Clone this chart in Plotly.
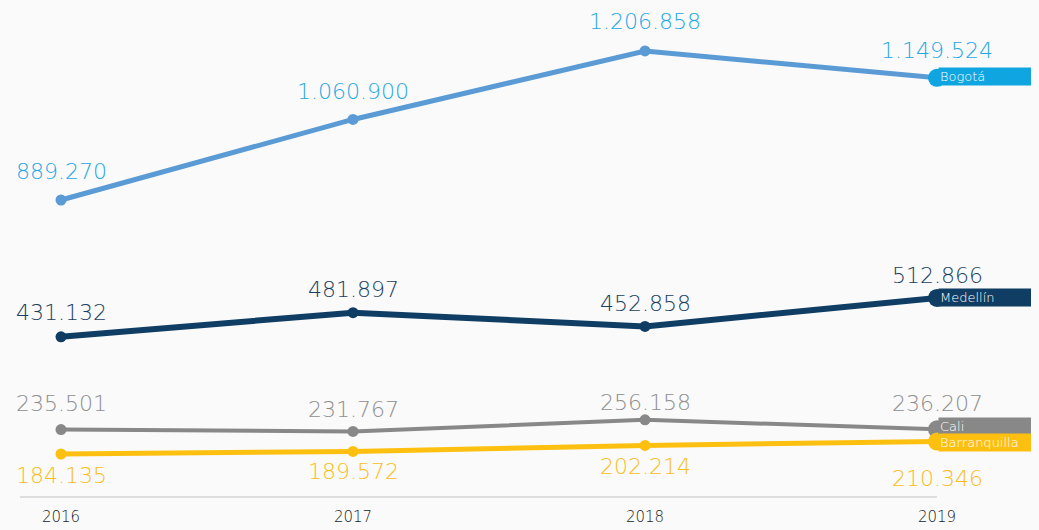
import plotly.graph_objects as go

years = ["2016", "2017", "2018", "2019"]
bogota = [889270, 1060900, 1206858, 1149524]
medellin = [431132, 481897, 452858, 512866]
cali = [235501, 231767, 256158, 236207]
barranquilla = [184135, 189572, 202214, 210346]

series = [
    # name, values, line color, label color, pill color, width, yaxis, label shifts
    ("Bogotá", bogota, "#5b9bd5", "#1fa8e4", "#0ea5e0", 5, "y2", [29, 28, 29, 27]),
    ("Medellín", medellin, "#0f3d63", "#1b3f5f", "#0f3d63", 6, "y", [24, 23, 23, 22]),
    ("Cali", cali, "#888888", "#8f8f8f", "#888888", 4, "y", [26, 22, 17, 26]),
    ("Barranquilla", barranquilla, "#fdc010", "#fbbd1c", "#fdc010", 5, "y", [-21, -20, -21, -37]),
]
pill_shift = {"Bogotá": 1, "Medellín": 0, "Cali": 3, "Barranquilla": -1}

LABEL_FONT = "DejaVu Sans"

def fmt(v):
    return f"{v:,}".replace(",", ".")

xs = list(range(len(years)))
fig = go.Figure()
annotations = []
for name, vals, lc, tc, pc, w, yax, shifts in series:
    fig.add_trace(go.Scatter(
        x=xs, y=vals, mode="lines", yaxis=yax,
        line=dict(color=lc, width=w), cliponaxis=False, showlegend=False,
        hoverinfo="skip"))
    fig.add_trace(go.Scatter(
        x=xs[:-1], y=vals[:-1], mode="markers", yaxis=yax,
        marker=dict(color=lc, size=11), cliponaxis=False, showlegend=False,
        hoverinfo="skip"))
    fig.add_trace(go.Scatter(
        x=xs[-1:], y=vals[-1:], mode="markers", yaxis=yax,
        marker=dict(color=pc, size=18), cliponaxis=False, showlegend=False,
        hoverinfo="skip"))
    for i, v in enumerate(vals):
        annotations.append(dict(
            x=xs[i], y=v, xref="x", yref=yax, text=fmt(v), showarrow=False,
            yshift=shifts[i], font=dict(family=LABEL_FONT, size=22, color=tc, weight=200),
            xanchor="center", yanchor="middle"))
    annotations.append(dict(
        x=xs[-1], y=vals[-1], xref="x", yref=yax, text=name, showarrow=False,
        xanchor="left", yanchor="middle", xshift=1, yshift=pill_shift[name],
        bgcolor=pc, borderpad=1, width=96, align="left",
        font=dict(family=LABEL_FONT, size=13, color="white", weight=200)))

fig.update_layout(
    width=1031, height=522,
    margin=dict(l=12, r=102, t=0, b=34),
    paper_bgcolor="#fafafa", plot_bgcolor="#fafafa",
    annotations=annotations,
    xaxis=dict(range=[-0.1404, 3], tickvals=xs, ticktext=years, showgrid=False,
               zeroline=False, showline=True, linecolor="#dddddd", linewidth=2,
               ticks="", ticklabelstandoff=6,
               tickfont=dict(family=LABEL_FONT, size=15, color="#222222", weight=200)),
    yaxis=dict(range=[95641, 1123857], visible=False),
    yaxis2=dict(range=[258494, 1298422], overlaying="y", visible=False),
)

fig.write_html("out.html", post_script="document.body.style.background='#fafafa';")
